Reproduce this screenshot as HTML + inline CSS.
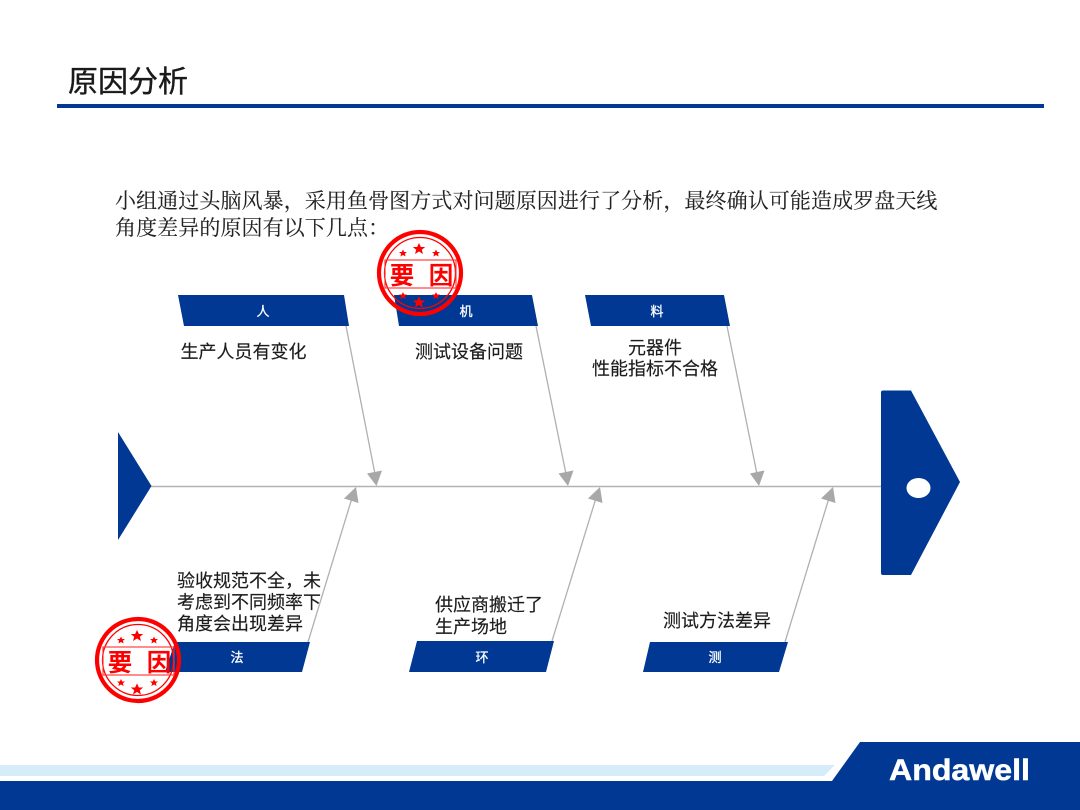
<!DOCTYPE html>
<html lang="zh">
<head>
<meta charset="utf-8">
<title>原因分析</title>
<style>
html,body{margin:0;padding:0;background:#fff;}
svg{display:block;}
.s{font-family:"Liberation Sans","Noto Sans CJK SC",sans-serif;}
.t{font-family:"Liberation Serif","Noto Serif CJK SC",serif;}
</style>
</head>
<body>
<svg width="1080" height="810" viewBox="0 0 1080 810" xmlns="http://www.w3.org/2000/svg">
<defs>
<g id="stamp">
  <circle cx="0" cy="0" r="41" fill="none" stroke="#ff0000" stroke-width="4.2"/>
  <circle cx="0" cy="0" r="35.5" fill="none" stroke="#ff0000" stroke-width="1.3"/>
  <rect x="-35" y="-13" width="71" height="28" fill="none" stroke="#ff3030" stroke-width="1.1"/>
  <text x="-18" y="11" text-anchor="middle" class="s" font-size="24.500" font-weight="700" fill="#ff0000">要</text>
  <text x="21" y="11" text-anchor="middle" class="s" font-size="24.500" font-weight="700" fill="#ff0000">因</text>
  <polygon points="-1,-30 0.9,-26 5.2,-26 1.8,-23.2 3,-19 -1,-21.5 -5,-19 -3.800,-23.2 -7.200,-26 -2.900,-26" fill="#ff0000"/>
  <polygon points="-17,-23.5 -15.800,-21 -13,-21 -15.100,-19.200 -14.400,-16.500 -17,-18 -19.600,-16.500 -18.900,-19.200 -21,-21 -18.200,-21" fill="#ff0000"/>
  <polygon points="16,-23.5 17.200,-21 20,-21 17.900,-19.200 18.600,-16.500 16,-18 13.400,-16.500 14.100,-19.200 12,-21 14.800,-21" fill="#ff0000"/>
  <polygon points="-1,23.500 0.9,27.500 5.200,27.500 1.800,30.300 3,34.500 -1,32 -5,34.500 -3.800,30.300 -7.200,27.500 -2.900,27.500" fill="#ff0000"/>
  <polygon points="-17,19 -15.800,21.500 -13,21.500 -15.100,23.300 -14.400,26 -17,24.500 -19.600,26 -18.900,23.300 -21,21.500 -18.200,21.500" fill="#ff0000"/>
  <polygon points="16,19 17.200,21.500 20,21.500 17.900,23.300 18.600,26 16,24.500 13.400,26 14.100,23.300 12,21.500 14.800,21.500" fill="#ff0000"/>
</g>
</defs>

<rect width="1080" height="810" fill="#fff"/>

<!-- header -->
<text x="68" y="92" class="s" font-size="30" fill="#1a1a1a" stroke="#1a1a1a" stroke-width="0.35">原因分析</text>
<rect x="57" y="104" width="987" height="4" fill="#003893"/>

<!-- intro -->
<text x="115" y="208" class="t" font-size="21" letter-spacing="0.09" fill="#222" stroke="#222" stroke-width="0.12">小组通过头脑风暴，采用鱼骨图方式对问题原因进行了分析，最终确认可能造成罗盘天线</text>
<text x="115" y="235" class="t" font-size="21" letter-spacing="0.09" fill="#222" stroke="#222" stroke-width="0.12">角度差异的原因有以下几点：</text>

<!-- spine -->
<line x1="151" y1="486.5" x2="882" y2="486.5" stroke="#b3b3b3" stroke-width="1.5"/>

<!-- bones -->
<g stroke="#b0b0b0" stroke-width="1.3">
  <line x1="346" y1="326" x2="375" y2="474"/>
  <line x1="536" y1="326" x2="566" y2="474"/>
  <line x1="727" y1="326" x2="757" y2="474"/>
  <line x1="308" y1="642" x2="352" y2="498"/>
  <line x1="552" y1="641" x2="596" y2="498"/>
  <line x1="785" y1="642" x2="829" y2="498"/>
</g>
<g fill="#a8a8a8">
  <polygon points="376.5,486 367,473.5 382,470.5"/>
  <polygon points="568,486 558.5,473.5 573.5,470.5"/>
  <polygon points="759,486 750,473.5 764.5,470.5"/>
  <polygon points="356,487 344,498.5 358.5,503"/>
  <polygon points="600,487 588,498.5 602.5,503"/>
  <polygon points="833,487 821,498.5 835.5,503"/>
</g>

<!-- tail and head -->
<polygon points="118,432 151.5,486 118,540" fill="#003893"/>
<path d="M883,390.5 L911,390.5 L960,482 L911,575 L883,575 Q881,575 881,573 L881,392.5 Q881,390.5 883,390.5 Z" fill="#003893"/>
<ellipse cx="918.5" cy="488" rx="12" ry="10" fill="#fff"/>

<!-- banners -->
<g fill="#003893">
  <polygon points="178,295 344,295 349,326 184,326"/>
  <polygon points="394,295 532,295 538,326 399,326"/>
  <polygon points="585,295 724,295 730,326 591,326"/>
  <polygon points="175,642 310,642 302,672 165,672"/>
  <polygon points="417,641 554,641 546,672 409,672"/>
  <polygon points="650,642 788,642 779,672 643,672"/>
</g>
<g class="s" font-size="13" fill="#fff" stroke="#fff" stroke-width="0.3" text-anchor="middle">
  <text x="263" y="316">人</text>
  <text x="466" y="316">机</text>
  <text x="657" y="316">料</text>
  <text x="237" y="662">法</text>
  <text x="482" y="662">环</text>
  <text x="715" y="662">测</text>
</g>

<!-- labels -->
<g class="s" font-size="18" fill="#1c1c1c" stroke="#1c1c1c" stroke-width="0.15">
  <text x="180.500" y="358">生产人员有变化</text>
  <text x="415" y="358">测试设备问题</text>
  <text x="655" y="354" text-anchor="middle">元器件</text>
  <text x="655" y="375" text-anchor="middle">性能指标不合格</text>
  <text x="177" y="587">验收规范不全，未</text>
  <text x="177" y="608.500">考虑到不同频率下</text>
  <text x="177" y="630">角度会出现差异</text>
  <text x="435" y="611">供应商搬迁了</text>
  <text x="435" y="633">生产场地</text>
  <text x="663" y="627">测试方法差异</text>
</g>

<!-- stamps -->
<use href="#stamp" x="420" y="273"/>
<use href="#stamp" x="138" y="660"/>

<!-- footer -->
<polygon points="0,765 835,765 824,776 0,776" fill="#d5ecf9"/>
<polygon points="860,742 1080,742 1080,810 0,810 0,781 832,781" fill="#003893"/>
<text x="889" y="780" class="s" font-size="30" font-weight="700" fill="#fff" stroke="#fff" stroke-width="0.5" textLength="141" lengthAdjust="spacingAndGlyphs">Andawell</text>
</svg>
</body>
</html>
